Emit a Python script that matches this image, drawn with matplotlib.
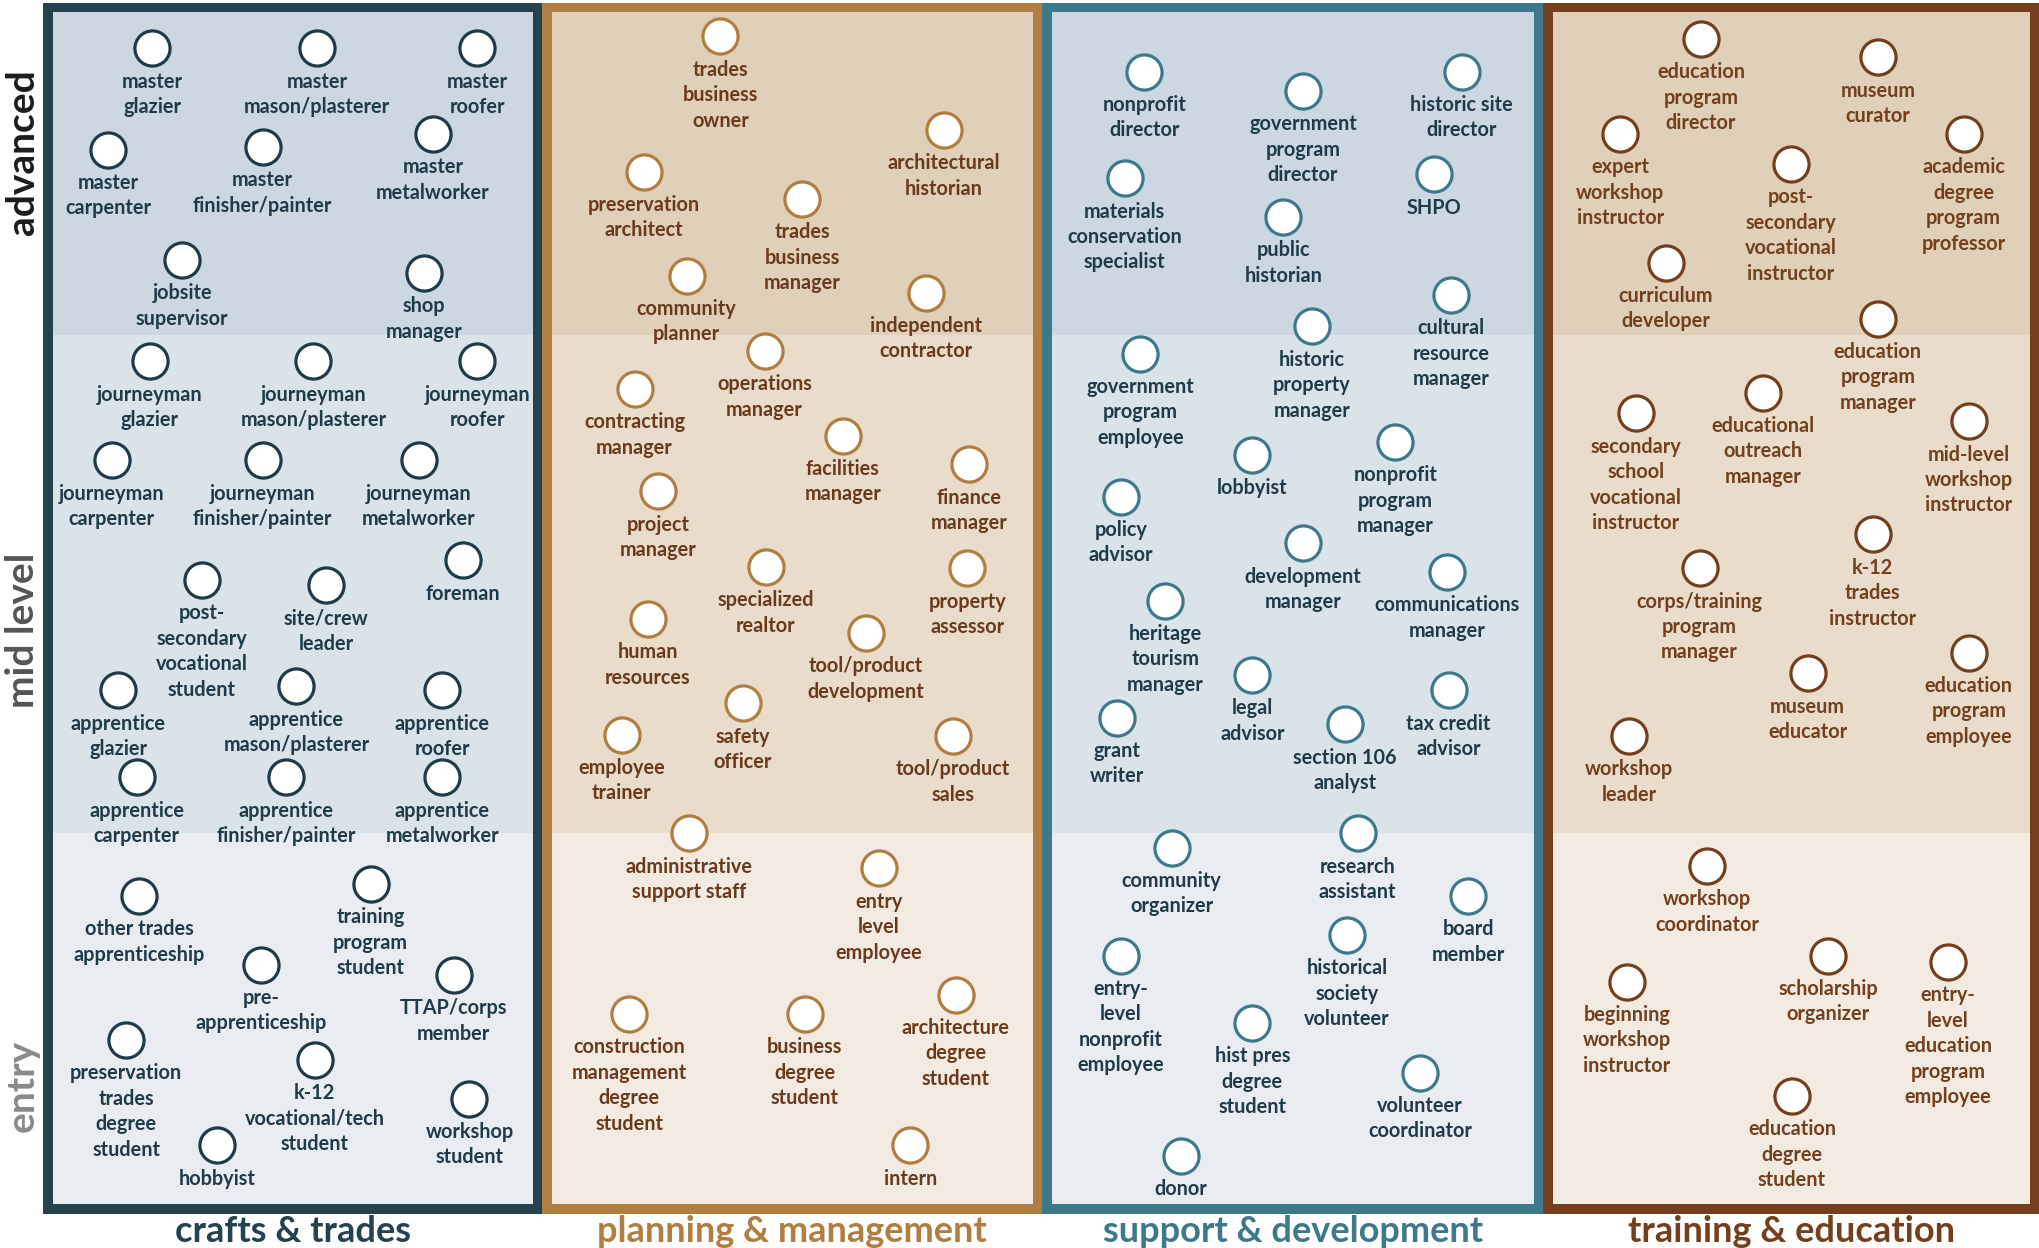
import matplotlib
matplotlib.use("Agg")
import matplotlib.pyplot as plt
from matplotlib.patches import Rectangle

# ---------------- data ----------------
categories = ["crafts & trades", "planning & management",
              "support & development", "training & education"]
levels = ["advanced", "mid level", "entry"]

crafts_labels = ["master\nglazier", "master\nmason/plasterer", "master\nroofer",
                 "master\ncarpenter", "master\nfinisher/painter", "master\nmetalworker",
                 "jobsite\nsupervisor", "shop\nmanager",
                 "journeyman\nglazier", "journeyman\nmason/plasterer", "journeyman\nroofer",
                 "journeyman\ncarpenter", "journeyman\nfinisher/painter", "journeyman\nmetalworker",
                 "post-\nsecondary\nvocational\nstudent", "site/crew\nleader", "foreman",
                 "apprentice\nglazier", "apprentice\nmason/plasterer", "apprentice\nroofer",
                 "apprentice\ncarpenter", "apprentice\nfinisher/painter", "apprentice\nmetalworker",
                 "other trades\napprenticeship", "training\nprogram\nstudent",
                 "pre-\napprenticeship", "TTAP/corps\nmember",
                 "preservation\ntrades\ndegree\nstudent", "k-12\nvocational/tech\nstudent",
                 "workshop\nstudent", "hobbyist"]
crafts_x = [117, 244, 367, 83, 202, 333, 140, 326, 115, 241, 367, 86, 202, 322,
            155, 251, 356, 91, 228, 340, 105, 220, 340, 107, 285, 201, 349, 97, 242, 361, 167]
crafts_y = [37, 37, 37, 115, 113, 103, 200, 210, 278, 278, 278, 354, 354, 354,
            446, 450, 431, 531, 528, 531, 598, 598, 598, 689, 680, 742, 750, 800, 815, 845, 881]

planning_labels = ["trades\nbusiness\nowner", "architectural\nhistorian",
                   "preservation\narchitect", "trades\nbusiness\nmanager",
                   "community\nplanner", "independent\ncontractor",
                   "operations\nmanager", "contracting\nmanager", "facilities\nmanager",
                   "finance\nmanager", "project\nmanager", "specialized\nrealtor",
                   "property\nassessor", "human\nresources", "tool/product\ndevelopment",
                   "safety\nofficer", "employee\ntrainer", "tool/product\nsales",
                   "administrative\nsupport staff", "entry\nlevel\nemployee",
                   "construction\nmanagement\ndegree\nstudent", "business\ndegree\nstudent",
                   "architecture\ndegree\nstudent", "intern"]
planning_x = [554, 726, 495, 617, 528, 712, 588, 488, 648, 745, 506, 589, 744, 498,
              666, 571, 478, 733, 530, 676, 484, 619, 735, 700]
planning_y = [28, 100, 132, 153, 212, 225, 270, 299, 335, 357, 378, 436, 437, 476,
              487, 541, 565, 566, 641, 668, 780, 780, 765, 881]

support_labels = ["nonprofit\ndirector", "government\nprogram\ndirector",
                  "historic site\ndirector", "materials\nconservation\nspecialist", "SHPO",
                  "public\nhistorian", "cultural\nresource\nmanager",
                  "historic\nproperty\nmanager", "government\nprogram\nemployee",
                  "nonprofit\nprogram\nmanager", "lobbyist", "policy\nadvisor",
                  "development\nmanager", "communications\nmanager",
                  "heritage\ntourism\nmanager", "legal\nadvisor", "tax credit\nadvisor",
                  "grant\nwriter", "section 106\nanalyst", "research\nassistant",
                  "community\norganizer", "board\nmember", "historical\nsociety\nvolunteer",
                  "entry-\nlevel\nnonprofit\nemployee", "hist pres\ndegree\nstudent",
                  "volunteer\ncoordinator", "donor"]
support_x = [880, 1002, 1124, 865, 1103, 987, 1116, 1009, 877, 1073, 963, 862, 1002,
             1113, 896, 963, 1114, 859, 1034, 1044, 901, 1129, 1036, 862, 963, 1092, 908]
support_y = [55, 70, 55, 137, 134, 167, 227, 251, 272, 340, 350, 382, 418, 440, 462,
             519, 531, 552, 557, 641, 652, 689, 719, 735, 787, 825, 889]

training_labels = ["education\nprogram\ndirector", "museum\ncurator",
                   "expert\nworkshop\ninstructor", "academic\ndegree\nprogram\nprofessor",
                   "post-\nsecondary\nvocational\ninstructor", "curriculum\ndeveloper",
                   "education\nprogram\nmanager", "educational\noutreach\nmanager",
                   "secondary\nschool\nvocational\ninstructor",
                   "mid-level\nworkshop\ninstructor", "k-12\ntrades\ninstructor",
                   "corps/training\nprogram\nmanager", "education\nprogram\nemployee",
                   "museum\neducator", "workshop\nleader", "workshop\ncoordinator",
                   "scholarship\norganizer", "entry-\nlevel\neducation\nprogram\nemployee",
                   "beginning\nworkshop\ninstructor", "education\ndegree\nstudent"]
training_x = [1308, 1444, 1246, 1510, 1377, 1281, 1444, 1356, 1258, 1514, 1440, 1307,
              1514, 1390, 1253, 1313, 1406, 1498, 1251, 1378]
training_y = [30, 44, 103, 103, 126, 202, 245, 302, 318, 324, 411, 437, 502, 518, 566,
              666, 735, 740, 755, 843]

# ---------------- styling ----------------
FONT = ["Lato", "DejaVu Sans"]
col_edges = [33.1, 416.9, 801.5, 1186.9, 1568.5]
top_outer, bottom_outer, inset = 2.3, 933.8, 7.3
band_edges = [top_outer + inset, 257.7, 640.8, bottom_outer - inset]

blue_bands = ["#ccd7e2", "#dae2ea", "#e9edf2"]
tan_bands = ["#e0cfb9", "#e9dccb", "#f3ebe2"]
col_styles = [
    dict(border="#25424f", bands=blue_bands, edge="#1f3a48", text="#1f3a48", title="#25424f"),
    dict(border="#b07e41", bands=tan_bands, edge="#b07e41", text="#6b3a1c", title="#b07e41"),
    dict(border="#3e798b", bands=blue_bands, edge="#3e798b", text="#1f3a48", title="#3e798b"),
    dict(border="#733f1c", bands=tan_bands, edge="#733f1c", text="#733f1c", title="#733f1c"),
]
columns = [(crafts_labels, crafts_x, crafts_y),
           (planning_labels, planning_x, planning_y),
           (support_labels, support_x, support_y),
           (training_labels, training_x, training_y)]

fig = plt.figure(figsize=(20.39, 12.48), dpi=100)
ax = fig.add_axes([0, 0, 1, 1])
ax.set_xlim(0, 1568)
ax.set_ylim(960, 0)
ax.axis("off")

for i, (style, (labels, xs, ys)) in enumerate(zip(col_styles, columns)):
    x0, x1 = col_edges[i], col_edges[i + 1]
    ax.add_patch(Rectangle((x0, top_outer), x1 - x0, bottom_outer - top_outer,
                           facecolor=style["border"], edgecolor="none", zorder=1))
    for b in range(3):
        ax.add_patch(Rectangle((x0 + inset, band_edges[b]), x1 - x0 - 2 * inset,
                               band_edges[b + 1] - band_edges[b],
                               facecolor=style["bands"][b], edgecolor="none", zorder=2))
    ax.scatter(xs, ys, s=640, facecolor="white", edgecolor=style["edge"],
               linewidth=2.3, zorder=4)
    for lab, x, y in zip(labels, xs, ys):
        ax.text(x, y + 18, lab, ha="center", va="top", fontsize=14.3,
                fontweight="bold", color=style["text"], family=FONT,
                linespacing=1.34, zorder=5)
    ax.text((x0 + x1) / 2, 947, categories[i], ha="center", va="center",
            fontsize=26, fontweight="bold", color=style["title"], family=FONT,
            zorder=5)

level_y = [117, 485, 835]
level_colors = ["#1c1c1c", "#555555", "#8a8a8a"]
for lab, y, c in zip(levels, level_y, level_colors):
    ax.text(17, y, lab, rotation=90, ha="center", va="center", fontsize=28,
            fontweight="bold", color=c, family=FONT)

fig.savefig("out.png", dpi=100)
